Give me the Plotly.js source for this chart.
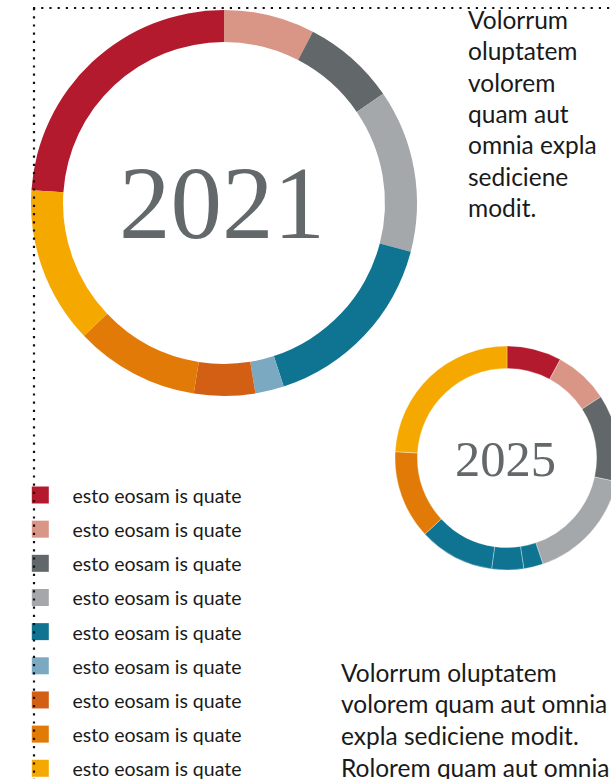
<!DOCTYPE html>
<html>
<head>
<meta charset="utf-8">
<script src="https://cdn.plot.ly/plotly-3.0.1.min.js"></script>
<style>
  html, body { margin: 0; padding: 0; overflow: hidden; background: #ffffff; }
  #chart { width: 640px; height: 779px; }
</style>
</head>
<body>
<div id="chart"></div>
<script>
// ---------- data ----------
const categories = [
  'esto eosam is quate', 'esto eosam is quate', 'esto eosam is quate',
  'esto eosam is quate', 'esto eosam is quate', 'esto eosam is quate',
  'esto eosam is quate', 'esto eosam is quate', 'esto eosam is quate'
];
const colors = ['#B41A2E', '#D99586', '#626769', '#A4A8AA', '#0E7492', '#7BA9C2', '#D35F15', '#E27A07', '#F5A800'];
const colors2025 = ['#B41A2E', '#D99586', '#626769', '#A4A8AA', '#0E7492', '#0E7492', '#0E7492', '#E27A07', '#F5A800'];
const values2021 = [23.9, 7.6, 7.8, 13.6, 15.9, 2.4, 5.1, 10.4, 13.1];
const values2025 = [7.9, 7.9, 12.6, 16.4, 2.8, 4.6, 10.9, 12.8, 24.1];
const year1 = '2021';
const year2 = '2025';
const textTop = ['Volorrum', 'oluptatem', 'volorem', 'quam aut', 'omnia expla', 'sediciene', 'modit.'];
const textBottom = ['Volorrum oluptatem', 'volorem quam aut omnia', 'expla sediciene modit.', 'Rolorem quam aut omnia'];

// ---------- layout helpers ----------
const W = 640, H = 779;
const fx = px => px / W;
const fy = py => 1 - py / H;
const SANS = 'Lato, "Open Sans", sans-serif';
const SERIF = '"Liberation Serif", "DejaVu Serif", serif';
const TEXT_COLOR = '#1a1a1a';
const NUM_COLOR = '#63686B';

const sum = a => a.reduce((s, v) => s + v, 0);
const labelsFor = cats => cats.map((c, i) => c + ' (' + (i + 1) + ')');

// big donut: centre (224,203), r 193
const bigDonut = {
  type: 'pie',
  labels: labelsFor(categories),
  values: values2021,
  marker: { colors: colors, line: { width: 0 } },
  hole: 0.834,
  sort: false,
  direction: 'clockwise',
  rotation: -360 * values2021[0] / sum(values2021),
  textinfo: 'none',
  showlegend: false,
  domain: { x: [fx(31), fx(417)], y: [fy(396), fy(10)] },
  hovertemplate: '%{label}: %{value}%<extra>' + year1 + '</extra>'
};

// small donut: centre (507,458), r 112
const smallDonut = {
  type: 'pie',
  labels: labelsFor(categories),
  values: values2025,
  marker: { colors: colors2025, line: { width: 0.6, color: 'rgba(255,255,255,0.55)' } },
  hole: 0.80,
  sort: false,
  direction: 'clockwise',
  rotation: 0,
  textinfo: 'none',
  showlegend: false,
  domain: { x: [fx(395), fx(619)], y: [fy(570), fy(346)] },
  hovertemplate: '%{label}: %{value}%<extra>' + year2 + '</extra>'
};

// legend drawn as scatter on a pixel-like axis
const idx = categories.map((_, i) => i);
const SWATCH_X = 40.3, TEXT_X = 72.5;
const legendSwatches = {
  type: 'scatter', mode: 'markers',
  x: idx.map(() => SWATCH_X), y: idx,
  marker: { symbol: 'square', size: 17, color: colors, line: { width: 0 } },
  xaxis: 'x', yaxis: 'y', showlegend: false, cliponaxis: false, hoverinfo: 'skip'
};
const legendText = {
  type: 'scatter', mode: 'text',
  x: idx.map(() => TEXT_X), y: idx,
  text: categories, textposition: 'middle right',
  textfont: { family: SANS, size: 19.5, color: TEXT_COLOR },
  xaxis: 'x', yaxis: 'y2', showlegend: false, cliponaxis: false, hoverinfo: 'skip'
};

// legend rows: first centre at y=495px, step 34.16px
const ROW0 = 495, ROWSTEP = 34.16, TEXT_SHIFT = 3;
const yDomTop = 467.4;
const yAxisRange = [(H - ROW0) / ROWSTEP, -(ROW0 - yDomTop) / ROWSTEP];
const yAxis2Range = [(H - ROW0 - TEXT_SHIFT) / ROWSTEP, -(ROW0 + TEXT_SHIFT - yDomTop) / ROWSTEP];

const annotations = [];
annotations.push({
  text: year1, x: fx(222), y: fy(203.5), xref: 'paper', yref: 'paper',
  xanchor: 'center', yanchor: 'middle', showarrow: false,
  font: { family: SERIF, size: 103, color: NUM_COLOR }
});
annotations.push({
  text: year2, x: fx(505.5), y: fy(458.5), xref: 'paper', yref: 'paper',
  xanchor: 'center', yanchor: 'middle', showarrow: false,
  font: { family: SERIF, size: 50.5, color: NUM_COLOR }
});
const BODY_SIZE = 24.5;
textTop.forEach((t, i) => {
  const base = 28.8 + i * 31.35;
  annotations.push({
    text: t, x: fx(465.5), y: fy(base - 0.387 * BODY_SIZE), xref: 'paper', yref: 'paper',
    xanchor: 'left', yanchor: 'middle', showarrow: false, align: 'left',
    font: { family: SANS, size: BODY_SIZE, color: TEXT_COLOR }
  });
});
textBottom.forEach((t, i) => {
  const base = 681.7 + i * 31.7;
  annotations.push({
    text: t, x: fx(338.5), y: fy(base - 0.387 * BODY_SIZE), xref: 'paper', yref: 'paper',
    xanchor: 'left', yanchor: 'middle', showarrow: false, align: 'left',
    font: { family: SANS, size: BODY_SIZE, color: TEXT_COLOR }
  });
});

const dotted = { color: '#111111', width: 2.2, dash: '2.2px,6px' };
const shapes = [
  { type: 'line', xref: 'paper', yref: 'paper', x0: fx(33), x1: fx(W), y0: fy(8), y1: fy(8), line: dotted, layer: 'above' },
  { type: 'line', xref: 'paper', yref: 'paper', x0: fx(34), x1: fx(34), y0: fy(8), y1: 0, line: dotted, layer: 'above' }
];

const layout = {
  width: W, height: H,
  margin: { l: 0, r: 0, t: 0, b: 0, pad: 0 },
  paper_bgcolor: '#ffffff', plot_bgcolor: 'rgba(0,0,0,0)',
  showlegend: false,
  xaxis: { domain: [0, fx(256)], range: [0, 256], visible: false, fixedrange: true },
  yaxis: { domain: [0, fy(yDomTop)], range: yAxisRange, visible: false, fixedrange: true },
  yaxis2: { domain: [0, fy(yDomTop)], range: yAxis2Range, visible: false, fixedrange: true, anchor: 'x', overlaying: 'y' },
  annotations: annotations,
  shapes: shapes,
  font: { family: SANS, color: TEXT_COLOR }
};

Plotly.newPlot('chart', [bigDonut, smallDonut, legendSwatches, legendText], layout, { displayModeBar: false, staticPlot: false });
</script>
</body>
</html>
